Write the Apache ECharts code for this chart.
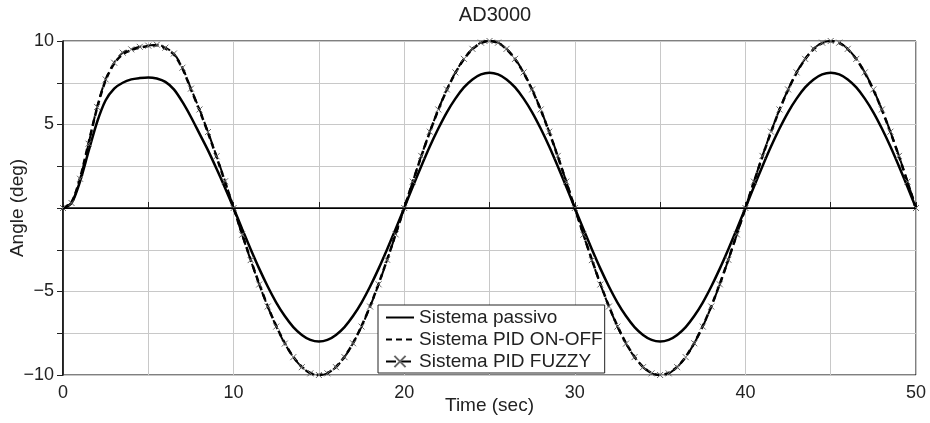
<!DOCTYPE html>
<html>
<head>
<meta charset="utf-8">
<script src="https://cdn.jsdelivr.net/npm/echarts@6/dist/echarts.min.js"></script>
<style>
  html, body { margin: 0; padding: 0; background: #fff; }
  #chart { width: 930px; height: 423px; }
</style>
</head>
<body>
<div id="chart"></div>
<script>
// time samples (sec)
const time = [
  0, 0.5, 1, 1.5, 2, 2.5, 3, 3.5, 4, 4.5, 5, 5.5, 6, 6.5, 7, 7.5, 8, 8.5, 9, 9.5,
  10, 10.5, 11, 11.5, 12, 12.5, 13, 13.5, 14, 14.5, 15, 15.5, 16, 16.5, 17, 17.5, 18, 18.5, 19, 19.5,
  20, 20.5, 21, 21.5, 22, 22.5, 23, 23.5, 24, 24.5, 25, 25.5, 26, 26.5, 27, 27.5, 28, 28.5, 29, 29.5,
  30, 30.5, 31, 31.5, 32, 32.5, 33, 33.5, 34, 34.5, 35, 35.5, 36, 36.5, 37, 37.5, 38, 38.5, 39, 39.5,
  40, 40.5, 41, 41.5, 42, 42.5, 43, 43.5, 44, 44.5, 45, 45.5, 46, 46.5, 47, 47.5, 48, 48.5, 49, 49.5,
  50
]

// Sistema passivo (deg)
const passivo = [
  0, 0.3, 1.6, 3.4, 5.15, 6.45, 7.15, 7.5, 7.7, 7.78, 7.82, 7.75, 7.55, 7.1, 6.35, 5.45, 4.45, 3.45, 2.35, 1.2,
  0, -1.25, -2.47, -3.63, -4.7, -5.66, -6.47, -7.13, -7.6, -7.9, -8.0, -7.9, -7.6, -7.13, -6.47, -5.66, -4.7, -3.63, -2.47, -1.25,
  0, 1.27, 2.5, 3.68, 4.76, 5.73, 6.55, 7.22, 7.7, 8.0, 8.1, 8.0, 7.7, 7.22, 6.55, 5.73, 4.76, 3.68, 2.5, 1.27,
  0, -1.25, -2.47, -3.63, -4.7, -5.66, -6.47, -7.13, -7.6, -7.9, -8.0, -7.9, -7.6, -7.13, -6.47, -5.66, -4.7, -3.63, -2.47, -1.25,
  0, 1.27, 2.5, 3.68, 4.76, 5.73, 6.55, 7.22, 7.7, 8.0, 8.1, 8.0, 7.7, 7.22, 6.55, 5.73, 4.76, 3.68, 2.5, 1.27,
  0
]

// Sistema PID ON-OFF (deg)
const pidOnOff = [
  0, 0.35, 1.8, 3.9, 6.0, 7.65, 8.65, 9.2, 9.45, 9.6, 9.7, 9.75, 9.55, 9.2, 8.35, 7.1, 5.85, 4.5, 3.05, 1.55,
  0, -1.56, -3.09, -4.54, -5.88, -7.07, -8.09, -8.91, -9.51, -9.88, -10, -9.88, -9.51, -8.91, -8.09, -7.07, -5.88, -4.54, -3.09, -1.56,
  0, 1.56, 3.09, 4.54, 5.88, 7.07, 8.09, 8.91, 9.51, 9.88, 10, 9.88, 9.51, 8.91, 8.09, 7.07, 5.88, 4.54, 3.09, 1.56,
  0, -1.56, -3.09, -4.54, -5.88, -7.07, -8.09, -8.91, -9.51, -9.88, -10, -9.88, -9.51, -8.91, -8.09, -7.07, -5.88, -4.54, -3.09, -1.56,
  0, 1.56, 3.09, 4.54, 5.88, 7.07, 8.09, 8.91, 9.51, 9.88, 10, 9.88, 9.51, 8.91, 8.09, 7.07, 5.88, 4.54, 3.09, 1.56,
  0
]

// Sistema PID FUZZY (deg)
const pidFuzzy = [
  0, 0.3, 1.75, 3.85, 6.05, 7.7, 8.7, 9.3, 9.5, 9.65, 9.72, 9.78, 9.6, 9.25, 8.4, 7.15, 5.9, 4.55, 3.1, 1.6,
  0, -1.6, -3.12, -4.58, -5.9, -7.1, -8.12, -8.93, -9.53, -9.9, -10, -9.9, -9.53, -8.93, -8.1, -7.1, -5.9, -4.57, -3.1, -1.58,
  0, 1.58, 3.12, 4.57, 5.9, 7.1, 8.12, 8.93, 9.53, 9.9, 10, 9.9, 9.53, 8.93, 8.12, 7.1, 5.9, 4.57, 3.12, 1.58,
  0, -1.6, -3.12, -4.58, -5.9, -7.1, -8.12, -8.93, -9.53, -9.9, -10, -9.9, -9.53, -8.93, -8.1, -7.1, -5.9, -4.57, -3.1, -1.58,
  0, 1.58, 3.12, 4.57, 5.9, 7.1, 8.12, 8.93, 9.53, 9.9, 10, 9.9, 9.53, 8.93, 8.12, 7.1, 5.9, 4.57, 3.12, 1.58,
  0
]

const seriesNames = ['Sistema passivo', 'Sistema PID ON-OFF', 'Sistema PID FUZZY']

const font = 'Liberation Sans, Arial, sans-serif'
const gridColor = '#c8c8c8'
const crossSymbol = 'path://M0,0L10,10M10,0L0,10'

function pairs(values) {
  return time.map((t, i) => [t, values[i]])
}

const chart = echarts.init(document.getElementById('chart'), null, { renderer: 'canvas' })

const option = {
  animation: false,
  backgroundColor: '#fff',
  title: {
    text: 'AD3000',
    left: 490,
    textAlign: 'center',
    top: 0,
    textStyle: { fontFamily: font, fontSize: 20, fontWeight: 'normal', color: '#222' }
  },
  legend: {
    data: [
      { name: seriesNames[0], itemStyle: { opacity: 0 } },
      { name: seriesNames[1], itemStyle: { opacity: 0 } },
      { name: seriesNames[2] }
    ],
    orient: 'vertical',
    left: 378,
    top: 305,
    padding: [3, 2, 2, 7],
    itemGap: 3,
    itemWidth: 28,
    itemHeight: 14,
    borderColor: '#222',
    borderWidth: 1,
    backgroundColor: '#fff',
    textStyle: { fontFamily: font, fontSize: 19, color: '#222' }
  },
  grid: {
    left: 63,
    right: 14,
    top: 41,
    bottom: 48,
    outerBoundsMode: 'none',
    containLabel: false,
    show: true,
    borderColor: '#000',
    borderWidth: 1
  },
  xAxis: {
    type: 'value',
    min: 0,
    max: 50,
    interval: 10,
    name: 'Time (sec)',
    nameLocation: 'middle',
    nameGap: 21,
    nameMoveOverlap: false,
    nameTextStyle: { fontFamily: font, fontSize: 19, color: '#222' },
    axisLine: { lineStyle: { color: '#444', width: 2 } },
    axisTick: { inside: true, length: 6, lineStyle: { color: '#222' } },
    minorTick: { show: true, splitNumber: 2, length: 6, lineStyle: { color: '#222' } },
    axisLabel: { fontFamily: font, fontSize: 18, color: '#222', margin: 9 },
    splitLine: { show: true, lineStyle: { color: gridColor, width: 1 } },
    minorSplitLine: { show: true, lineStyle: { color: gridColor, width: 1 } }
  },
  yAxis: {
    type: 'value',
    min: -10,
    max: 10,
    interval: 5,
    name: 'Angle (deg)',
    nameLocation: 'middle',
    nameGap: 36,
    nameMoveOverlap: false,
    nameTextStyle: { fontFamily: font, fontSize: 19, color: '#222' },
    axisLine: { lineStyle: { color: '#000', width: 1.5 } },
    axisTick: { length: 6, lineStyle: { color: '#222' } },
    minorTick: { show: true, splitNumber: 2, length: 6, lineStyle: { color: '#222' } },
    axisLabel: {
      fontFamily: font,
      fontSize: 18,
      color: '#222',
      margin: 9,
      formatter: v => v === 0 ? '' : String(v).replace('-', '\u2212')
    },
    splitLine: { show: true, lineStyle: { color: gridColor, width: 1 } },
    minorSplitLine: { show: true, lineStyle: { color: gridColor, width: 1 } }
  },
  series: [
    {
      name: seriesNames[0],
      type: 'line',
      data: pairs(passivo),
      smooth: 0.3,
      symbol: 'none',
      lineStyle: { color: '#000', width: 2.5 },
      itemStyle: { color: '#000' },
      markLine: {
        silent: true,
        symbol: 'none',
        label: { show: false },
        lineStyle: { color: '#000', width: 1, type: 'solid' },
        data: [{ yAxis: 0 }]
      }
    },
    {
      name: seriesNames[1],
      type: 'line',
      data: pairs(pidOnOff),
      smooth: 0.3,
      symbol: 'none',
      lineStyle: { color: '#000', width: 2.5, type: [6, 4] },
      itemStyle: { color: '#000' }
    },
    {
      name: seriesNames[2],
      type: 'line',
      data: pairs(pidFuzzy),
      smooth: 0.3,
      symbol: crossSymbol,
      symbolSize: 6,
      showSymbol: true,
      lineStyle: { color: '#000', width: 2, type: [10, 5] },
      itemStyle: { color: '#666', borderColor: '#666', borderWidth: 1 }
    }
  ]
}

chart.setOption(option)
</script>
</body>
</html>
